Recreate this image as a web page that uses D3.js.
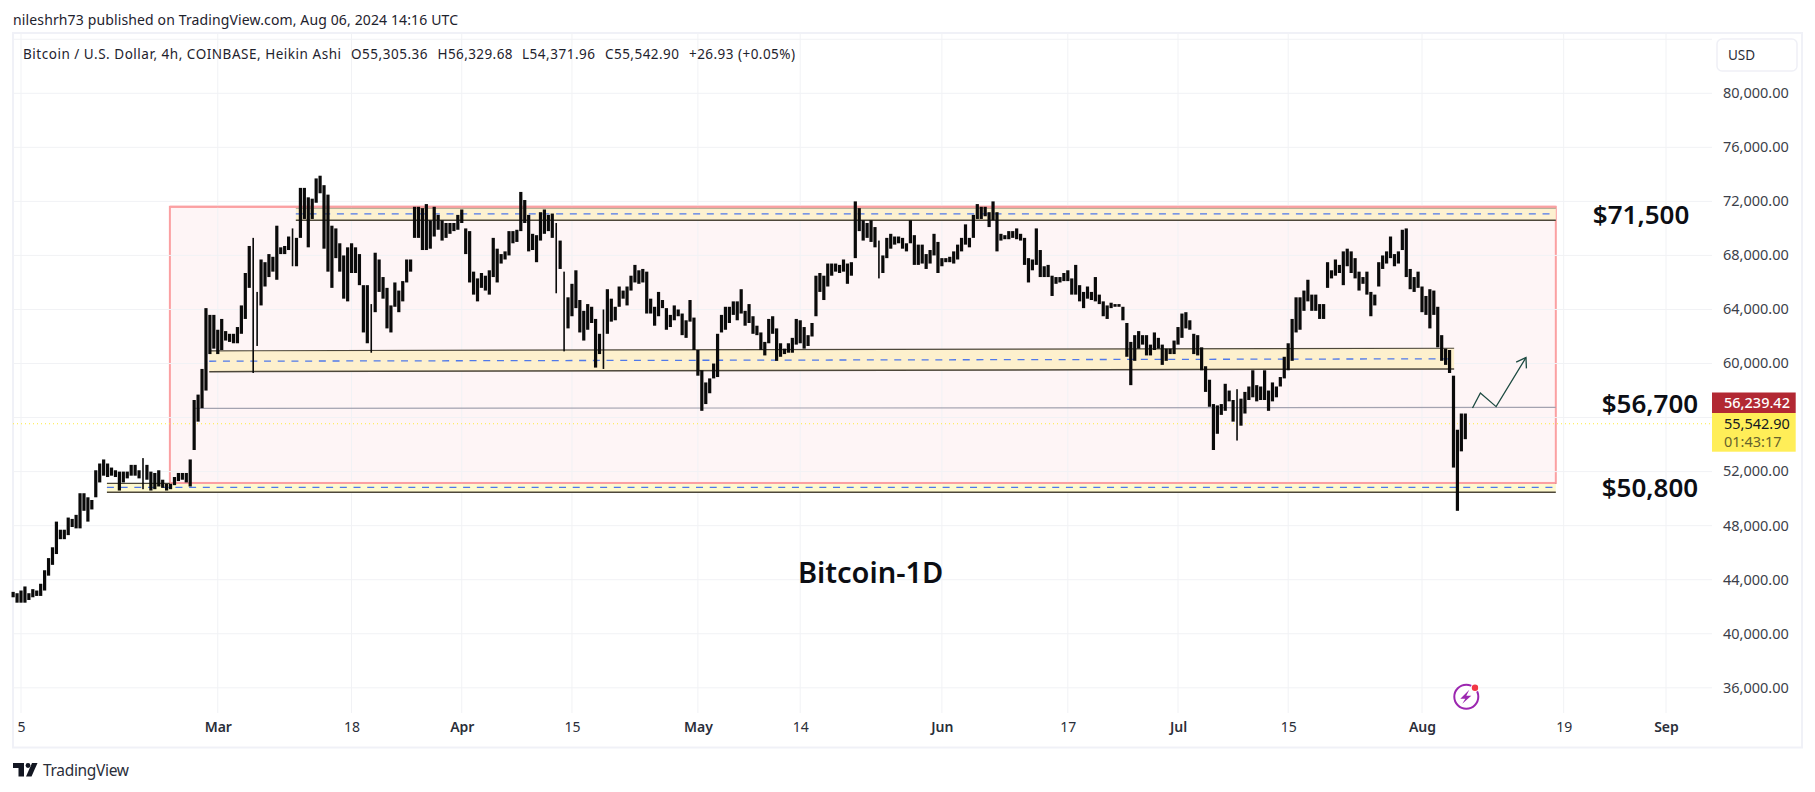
<!DOCTYPE html>
<html>
<head>
<meta charset="utf-8">
<script src="https://cdnjs.cloudflare.com/ajax/libs/d3/7.8.5/d3.min.js"></script>
<style>
  html, body { margin: 0; padding: 0; background: #fff; }
  svg { display: block; }
  text { font-family: "Noto Sans", sans-serif; }
</style>
</head>
<body>
<svg id="chart" width="1815" height="792"></svg>
<script>
// 12h samples, starting 2024-02-04 00:00 UTC (thousands of USD)
var barStart = Date.UTC(2024, 1, 4);
var barHighs = [
  43.1,43.0,43.2,43.5,43.0,43.3,43.2,43.7,44.7,45.6,
  46.4,48.3,47.7,47.7,48.6,48.5,48.8,50.4,50.4,50.1,
  49.9,52.1,52.6,52.9,52.6,52.3,52.1,52.0,52.0,52.0,
  52.5,52.5,52.1,53.0,52.5,52.0,51.9,52.1,51.4,51.1,
  51.1,51.6,51.9,51.9,51.9,52.9,57.3,57.7,59.6,64.1,
  63.6,63.6,62.5,63.3,62.4,62.2,62.2,62.7,64.3,66.7,
  68.7,69.3,65.3,67.7,67.5,68.1,67.9,70.2,68.6,68.7,
  69.4,70.0,69.3,73.0,73.0,72.3,72.2,73.7,73.9,73.2,
  72.5,70.2,70.0,68.9,68.0,68.6,68.9,68.6,68.1,65.8,
  65.8,64.4,68.2,67.7,66.4,65.6,64.3,66.0,65.4,66.1,
  67.7,67.7,71.6,71.6,71.5,71.8,70.6,71.6,71.0,70.6,
  70.4,70.4,70.4,71.0,71.4,70.0,69.8,66.8,66.3,66.7,
  66.5,66.9,69.3,68.5,68.1,68.3,69.8,69.8,69.9,72.7,
  72.1,71.0,69.6,69.5,71.2,71.4,71.0,71.1,70.4,69.1,
  66.8,64.9,65.9,66.9,64.7,63.9,64.4,64.2,63.3,62.2,
  64.0,65.5,64.8,64.2,65.7,65.4,65.7,66.5,67.3,66.9,
  67.0,66.8,64.8,64.2,65.3,64.7,64.1,63.6,64.3,64.0,
  63.7,63.2,64.7,63.4,61.0,59.5,58.6,58.9,60.0,62.2,
  63.6,64.2,64.2,64.6,64.6,65.5,63.9,64.4,63.5,62.8,
  62.3,61.6,63.3,63.5,62.6,61.5,61.1,61.5,61.9,63.3,
  63.2,62.7,62.1,63.0,66.5,66.7,66.5,67.4,67.4,67.4,
  67.3,67.7,67.4,67.5,72.0,71.5,70.6,70.4,70.6,70.1,
  69.1,68.0,69.3,69.6,69.4,69.4,69.3,68.9,70.6,69.5,
  68.8,68.8,68.1,68.4,69.6,69.0,67.8,67.8,67.9,68.3,
  68.8,69.3,70.3,69.3,71.0,71.8,71.6,71.6,71.2,72.0,
  71.2,69.6,69.5,69.8,69.8,70.0,69.6,69.3,67.8,67.7,
  70.0,68.4,67.2,67.3,66.5,66.4,66.4,66.7,66.9,66.3,
  67.3,65.8,65.3,65.7,65.3,66.4,65.1,64.6,64.3,64.5,
  64.4,64.4,64.2,63.0,61.6,62.1,62.4,62.1,62.1,61.4,
  62.3,61.9,61.4,61.1,61.1,61.7,62.7,63.7,63.8,63.2,
  62.2,62.1,61.2,59.8,58.8,57.0,56.9,57.0,58.5,58.0,
  57.3,58.1,57.4,57.9,58.3,59.5,58.4,58.3,59.5,58.0,
  58.6,58.3,59.0,60.5,61.5,63.3,64.9,64.9,65.4,66.2,
  65.1,65.1,64.4,64.4,67.5,66.9,67.7,67.3,68.3,68.5,
  68.3,67.8,66.8,66.4,66.8,65.3,65.1,67.5,68.0,68.3,
  69.4,68.1,68.3,69.9,70.0,67.0,66.4,66.8,65.7,65.0,
  65.5,65.4,64.2,62.1,61.1,61.0,59.1,55.1,56.3,56.3
];
var barLows = [
  42.7,42.3,42.3,42.3,42.5,42.7,42.8,42.8,43.2,44.3,
  45.1,45.9,47.0,47.0,47.3,47.9,47.8,47.8,49.1,48.3,
  49.2,50.1,51.2,51.7,51.6,51.7,51.6,50.6,51.2,51.5,
  51.7,51.7,51.5,50.7,51.4,50.6,50.7,50.9,50.8,50.6,
  50.7,51.0,51.3,51.4,51.2,50.9,53.6,55.7,56.7,58.0,
  60.7,61.1,60.7,61.0,61.7,61.6,61.5,61.5,62.2,63.3,
  65.6,59.3,61.3,64.3,65.7,66.4,66.8,66.2,68.1,68.1,
  68.4,67.2,67.2,69.3,70.7,68.6,70.7,71.9,72.6,68.5,
  66.8,65.6,67.8,66.8,64.8,64.6,66.7,66.7,65.8,62.3,
  61.5,60.8,63.8,65.3,64.8,62.6,62.3,64.2,63.8,64.6,
  66.0,66.8,69.3,69.3,68.4,68.4,68.5,69.4,69.9,69.1,
  69.3,69.6,69.8,69.9,70.4,68.1,66.0,65.1,64.6,65.6,
  65.4,65.1,66.4,66.0,67.4,67.7,68.0,68.9,69.0,69.8,
  70.4,68.3,68.4,67.5,69.1,69.6,69.8,69.3,65.2,67.0,
  60.9,62.6,63.5,64.1,62.3,61.7,62.5,63.0,59.7,60.7,
  59.6,62.2,63.1,63.2,64.2,64.8,64.3,65.4,66.0,65.9,
  66.0,63.7,63.7,62.8,63.5,64.1,62.5,62.7,63.2,63.5,
  62.1,61.9,63.1,61.0,59.1,56.5,57.0,57.8,58.9,59.0,
  62.3,62.5,63.0,63.6,63.2,63.7,62.8,63.0,62.2,62.1,
  61.0,60.6,61.5,62.2,60.2,60.5,60.7,60.8,60.8,61.4,
  61.5,61.1,61.3,62.0,63.5,65.3,64.7,65.7,66.5,66.8,
  66.7,66.8,65.9,66.5,67.8,69.8,69.1,69.3,69.0,68.6,
  66.3,66.7,67.8,68.5,68.8,68.9,68.5,68.3,68.9,67.3,
  67.3,67.4,67.0,67.4,68.0,66.7,67.2,67.5,67.5,67.4,
  67.7,68.3,68.8,68.6,69.3,70.7,70.7,70.9,70.1,70.6,
  68.3,69.1,69.2,69.2,69.3,69.2,69.1,67.3,66.0,66.9,
  67.3,66.4,66.4,66.4,65.0,65.9,66.0,66.1,66.1,65.1,
  65.1,64.6,64.1,64.8,64.7,64.6,64.4,63.5,63.3,64.1,
  64.2,64.2,63.2,60.5,58.4,60.2,61.1,61.4,60.6,60.6,
  61.0,61.1,59.9,60.2,60.7,60.7,61.4,61.9,62.6,62.5,
  60.7,60.6,59.5,57.9,56.8,53.6,54.8,56.2,56.5,57.2,
  55.7,54.3,55.4,56.3,57.3,57.5,57.2,57.3,57.3,56.5,
  57.2,57.5,58.3,58.9,59.5,60.2,62.3,62.5,63.9,64.6,
  63.9,63.9,63.3,63.3,65.6,66.3,66.5,66.7,65.8,67.2,
  66.7,66.3,65.4,65.9,65.1,63.5,64.3,65.7,67.0,67.4,
  67.8,67.2,67.4,68.4,66.4,65.5,65.3,65.6,63.8,63.6,
  62.6,63.6,61.2,60.2,59.9,59.3,52.3,49.1,53.5,54.4
];
// long single wicks in the picture, drawn thin
var thinBars = [33,61,62,71,91,138,140,150,220,311];

var priceTicks = [36000,40000,44000,48000,52000,60000,64000,68000,72000,76000,80000];
var gridPrices = [36000,40000,44000,48000,52000,56000,60000,64000,68000,72000,76000,80000,84000];
var timeTicks = ["2024-02-05","2024-03-01","2024-03-18","2024-04-01","2024-04-15","2024-05-01","2024-05-14","2024-06-01","2024-06-17","2024-07-01","2024-07-15","2024-08-01","2024-08-19","2024-09-01"];
var timeLabels = ["5","Mar","18","Apr","15","May","14","Jun","17","Jul","15","Aug","19","Sep"];

// drawings on the chart
var rangeDates = ["2024-02-23T22:00Z","2024-08-18T00:00Z"];
var rangePrices = [71600,51160];
var zoneStarts = ["2024-03-10T22:00Z","2024-02-28T22:00Z","2024-02-15T22:00Z"];
var zoneEnds = ["2024-08-18T00:00Z","2024-08-05T02:00Z","2024-08-18T00:00Z"];
var zoneTopsStart = [71500,60940,51130];
var zoneTopsEnd = [71500,61130,51130];
var zoneMidsStart = [71080,60170,50830];
var zoneMidsEnd = [71080,60350,50830];
var zoneBotsStart = [70600,59400,50480];
var zoneBotsEnd = [70600,59600,50480];
var zoneFills = ["#fdf1d0","#fdf0cd","#fef9cf"];
var midLineDates = ["2024-02-27T02:00Z","2024-08-18T00:00Z"];
var midLinePrices = [56680,56750];
var lastPrice = 55542.9;
var arrowDates = ["2024-08-07T10:00Z","2024-08-08T10:00Z","2024-08-10T10:00Z","2024-08-14T05:00Z"];
var arrowPrices = [56710,57820,56810,60440];

var annoTexts = ["$71,500","$56,700","$50,800","Bitcoin-1D"];
var annoDates = ["2024-08-22T17:00Z","2024-08-23T20:00Z","2024-08-23T20:00Z","2024-05-13T17:00Z"];
var annoPrices = [70320,56340,50100,43730];
var annoSizes = [26,26,26,29];

var legendParts = ["Bitcoin / U.S. Dollar, 4h, COINBASE, Heikin Ashi","O55,305.36","H56,329.68","L54,371.96","C55,542.90","+26.93 (+0.05%)"];
var legendStarts = [23,351,437.5,522,605,689];
var legendWidths = [318,76.5,75,73,74,106];

var svg = d3.select('#chart');

var plotLeft = 13, plotRight = 1712, plotTop = 33, plotBottom = 713;

var x = d3.scaleUtc()
  .domain([new Date("2024-02-05"), new Date("2024-09-01")])
  .range([21, 1666]);
var y = d3.scaleLinear()
  .domain([36000, 80000])
  .range([687.8, 93.3]);

function halfDays(i) { return new Date(barStart + i * 43200000); }
function xd(s) { return x(new Date(s)); }

// outer frame
svg.append('rect')
  .attr('x', plotLeft).attr('y', plotTop)
  .attr('width', 1802 - plotLeft).attr('height', 747.5 - plotTop)
  .attr('fill', 'none').attr('stroke', '#f0f1f7').attr('stroke-width', 2);

// grid
var grid = svg.append('g').attr('stroke', '#f1f2f5').attr('stroke-width', 1);
grid.selectAll('.h').data(gridPrices).enter().append('line')
  .attr('x1', plotLeft).attr('x2', plotRight)
  .attr('y1', function(d){ return y(d); }).attr('y2', function(d){ return y(d); });
grid.selectAll('.v').data(timeTicks).enter().append('line')
  .attr('y1', plotTop).attr('y2', plotBottom)
  .attr('x1', function(d){ return xd(d); }).attr('x2', function(d){ return xd(d); });

// big range box
svg.append('rect')
  .attr('x', xd(rangeDates[0])).attr('y', y(rangePrices[0]))
  .attr('width', xd(rangeDates[1]) - xd(rangeDates[0]))
  .attr('height', y(rangePrices[1]) - y(rangePrices[0]))
  .attr('fill', 'rgba(242,54,69,0.05)').attr('stroke', '#fba0a2').attr('stroke-width', 2);
grid.raise();

// support / resistance zones
zoneStarts.forEach(function(s, i) {
  var x0 = xd(s), x1 = xd(zoneEnds[i]);
  var pts = [[x0, y(zoneTopsStart[i])],[x1, y(zoneTopsEnd[i])],[x1, y(zoneBotsEnd[i])],[x0, y(zoneBotsStart[i])]];
  svg.append('polygon').attr('points', pts.join(' ')).attr('fill', zoneFills[i]);
  svg.append('line').attr('x1', x0).attr('x2', x1).attr('y1', pts[0][1]).attr('y2', pts[1][1])
    .attr('stroke', i == 0 ? '#a29b84' : '#4d473a').attr('stroke-width', 1.2);
  svg.append('line').attr('x1', x0).attr('x2', x1).attr('y1', pts[3][1]).attr('y2', pts[2][1])
    .attr('stroke', '#4d473a').attr('stroke-width', 1.5);
  svg.append('line').attr('x1', x0).attr('x2', x1)
    .attr('y1', y(zoneMidsStart[i])).attr('y2', y(zoneMidsEnd[i]))
    .attr('stroke', '#4f78ea').attr('stroke-width', 1.3).attr('stroke-dasharray', '7 6.7');
});
// the box edges sit over the zones
rangePrices.forEach(function(p) {
  svg.append('line')
    .attr('x1', xd(rangeDates[0])).attr('x2', xd(rangeDates[1]))
    .attr('y1', y(p)).attr('y2', y(p))
    .attr('stroke', '#fba0a2').attr('stroke-width', 2);
});

// 56,700 level
svg.append('line')
  .attr('x1', xd(midLineDates[0])).attr('x2', xd(midLineDates[1]))
  .attr('y1', y(midLinePrices[0])).attr('y2', y(midLinePrices[1]))
  .attr('stroke', '#a3a3b0').attr('stroke-width', 1.2);

// last price line
svg.append('line')
  .attr('x1', plotLeft).attr('x2', plotRight)
  .attr('y1', y(lastPrice)).attr('y2', y(lastPrice))
  .attr('stroke', '#ffeb3b').attr('stroke-width', 1).attr('stroke-dasharray', '1 3');

// price bars
svg.append('g').selectAll('rect').data(barHighs).enter().append('rect')
  .attr('x', function(d, i){ return x(halfDays(i)) - (thinBars.indexOf(i) >= 0 ? 0.8 : 1.6); })
  .attr('width', function(d, i){ return thinBars.indexOf(i) >= 0 ? 1.6 : 3.2; })
  .attr('y', function(d){ return y(d * 1000); })
  .attr('height', function(d, i){ return y(barLows[i] * 1000) - y(d * 1000); })
  .attr('fill', '#0a0a0a');

// arrow
var defs = svg.append('defs');
defs.append('marker').attr('id', 'head')
  .attr('markerUnits', 'userSpaceOnUse').attr('orient', 'auto')
  .attr('markerWidth', 14).attr('markerHeight', 14)
  .attr('refX', 11).attr('refY', 7)
  .append('path').attr('d', 'M2,1 L11,7 L2,13')
  .attr('fill', 'none').attr('stroke', '#1c4a41').attr('stroke-width', 1.3);
svg.append('path')
  .attr('d', d3.line()(arrowDates.map(function(d, i){ return [xd(d), y(arrowPrices[i])]; })))
  .attr('fill', 'none').attr('stroke', '#1c4a41').attr('stroke-width', 1.3)
  .attr('marker-end', 'url(#head)');

// axes
var priceAxis = d3.axisRight(y).tickValues(priceTicks).tickSize(0).tickPadding(11)
  .tickFormat(d3.format(',.2f'));
var ga = svg.append('g').attr('transform', 'translate(' + plotRight + ',0)').call(priceAxis);
ga.select('.domain').remove();
ga.selectAll('text').attr('font-size', 14.5).attr('fill', '#3c3f4a').attr('dy', '0.3em')
  .style('font-family', '"Noto Sans", sans-serif');

var timeAxis = d3.axisBottom(x).tickValues(timeTicks.map(function(d){ return new Date(d); }))
  .tickSize(0).tickPadding(0)
  .tickFormat(function(d, i){ return timeLabels[i]; });
var gt = svg.append('g').attr('transform', 'translate(0,722)').call(timeAxis);
gt.select('.domain').remove();
gt.selectAll('text').attr('font-size', 14).attr('fill', '#2a2e39')
  .style('font-family', '"Noto Sans", sans-serif')
  .attr('font-weight', function(d, i){ return isNaN(+timeLabels[i]) ? 600 : 400; });

// price badges
svg.append('rect').attr('x', plotRight).attr('y', 392.5).attr('width', 83.7).attr('height', 20.5).attr('fill', '#b22833');
svg.append('rect').attr('x', plotRight).attr('y', 413).attr('width', 83.7).attr('height', 38.7).attr('fill', '#ffee58');
svg.append('text').attr('x', 1724).attr('y', 407.5).attr('font-size', 14.5).attr('font-weight', 500).attr('fill', '#fff').text('56,239.42');
svg.append('text').attr('x', 1724).attr('y', 428.5).attr('font-size', 14.5).attr('fill', '#131722').text('55,542.90');
svg.append('text').attr('x', 1724).attr('y', 446.5).attr('font-size', 14.5).attr('fill', '#66622c').text('01:43:17');

// USD button
svg.append('rect').attr('x', 1717).attr('y', 39).attr('width', 80).attr('height', 32).attr('rx', 5)
  .attr('fill', '#fff').attr('stroke', '#eff0f6').attr('stroke-width', 1.5);
svg.append('text').attr('x', 1728).attr('y', 60).attr('font-size', 13.5).attr('fill', '#2a2e39').text('USD');

// big annotations
annoTexts.forEach(function(t, i) {
  svg.append('text')
    .attr('x', xd(annoDates[i])).attr('y', y(annoPrices[i]))
    .attr('font-size', annoSizes[i]).attr('font-weight', 600).attr('fill', '#0c0e14').text(t);
});

// header and legend
svg.append('text').attr('x', 13).attr('y', 25).attr('font-size', 14).attr('fill', '#1e222d')
  .attr('textLength', 445).text('nileshrh73 published on TradingView.com, Aug 06, 2024 14:16 UTC');
legendParts.forEach(function(t, i) {
  svg.append('text').attr('x', legendStarts[i]).attr('y', 59).attr('font-size', 13.5).attr('fill', '#1e222d')
    .attr('textLength', legendWidths[i]).text(t);
});

// purple lightning badge
var badge = svg.append('g').attr('transform', 'translate(1466.3,696.7)');
badge.append('circle').attr('r', 12).attr('fill', '#fff').attr('stroke', '#9c27b0').attr('stroke-width', 2);
badge.append('path').attr('d', 'M3,-7 L-6,2 L-1,2 L-4,7 L5,-1 L0,-1 Z').attr('fill', '#9c27b0');
badge.append('circle').attr('cx', 8.7).attr('cy', -9).attr('r', 4.2).attr('fill', '#fff');
badge.append('circle').attr('cx', 8.7).attr('cy', -9).attr('r', 3.2).attr('fill', '#f23645');

// TradingView mark
var logo = svg.append('g').attr('fill', '#131722');
logo.append('path').attr('d', 'M13,763 H24 V776.5 H18.5 V768 H13 Z');
logo.append('circle').attr('cx', 28).attr('cy', 765.5).attr('r', 2.4);
logo.append('path').attr('d', 'M32,763 H37.5 L31.5,776.5 H26 Z');
svg.append('text').attr('x', 43).attr('y', 775.5).attr('font-size', 15.5).attr('fill', '#2a2e39')
  .attr('textLength', 86).text('TradingView');
</script>
</body>
</html>
